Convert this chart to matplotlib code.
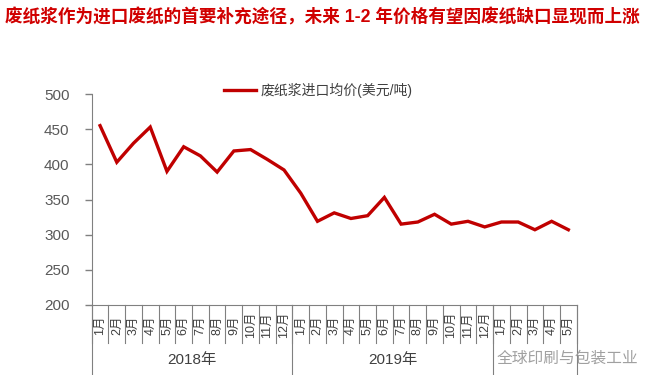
import matplotlib
matplotlib.use("Agg")
import matplotlib.pyplot as plt
from matplotlib.transforms import blended_transform_factory

plt.rcParams['font.family'] = ['Liberation Sans', 'Noto Sans CJK SC', 'DejaVu Sans']

years = ["2018年", "2019年", "2020年"]
months_per_year = [12, 12, 5]
month_labels = [f"{m}月" for n in months_per_year for m in range(1, n + 1)]
prices = [455, 403, 430, 453, 390, 425, 412, 389, 419, 421, 407, 392,
          359, 319, 331, 323, 327, 353, 315, 318, 329, 315, 319, 311,
          318, 318, 307, 319, 307]
series_name = "废纸浆进口均价(美元/吨)"
title = "废纸浆作为进口废纸的首要补充途径，未来 1-2 年价格有望因废纸缺口显现而上涨"
yticks = [200, 250, 300, 350, 400, 450, 500]

W, H = 651, 375
fig = plt.figure(figsize=(W / 100, H / 100), dpi=100)
ax = fig.add_axes([91.7 / W, 70 / H, 485 / W, 211 / H])

x = list(range(len(prices)))
ax.plot(x, prices, color='#C00000', linewidth=2.4, label=series_name,
        solid_joinstyle='miter')
ax.set_xlim(-0.5, len(prices) - 0.5)
ax.set_ylim(200, 500)
ax.set_yticks(yticks)
ax.tick_params(axis='y', direction='out', length=5, width=1, color='#808080',
               labelcolor='#595959', labelsize=11, pad=11)
ax.set_xticks([])
for s in ['top', 'right']:
    ax.spines[s].set_visible(False)
ax.spines['left'].set_color('#808080')
ax.spines['bottom'].set_color('#808080')

# multi-level category axis
tr = blended_transform_factory(ax.transData, fig.transFigure)
y_axis = 70 / H
y_month_end = (H - 343) / H
gray = '#808080'
for i in range(len(prices) + 1):
    ax.plot([i - 0.5, i - 0.5], [y_axis, y_month_end], transform=tr,
            color=gray, lw=0.8, clip_on=False)
for i, lab in enumerate(month_labels):
    ax.text(i, (H - 325) / H, lab, transform=tr, rotation=90, ha='center',
            va='center', fontsize=9, color='#404040')
start = 0
bounds = [0]
for n in months_per_year:
    start += n
    bounds.append(start)
for b in bounds:
    ax.plot([b - 0.5, b - 0.5], [y_axis, 0], transform=tr,
            color=gray, lw=0.8, clip_on=False)
for k, yr in enumerate(years[:2]):
    mid = (bounds[k] + bounds[k + 1] - 1) / 2
    ax.text(mid, (H - 360) / H, yr, transform=tr, ha='center', va='center',
            fontsize=11, color='#404040')

# watermark
fig.text(497 / W, (H - 358) / H, "全球印刷与包装工业", ha='left', va='center',
         fontsize=11.3, color='#A0A0A0')

leg = ax.legend(loc='upper center', bbox_to_anchor=(318 / W, (H - 70) / H),
                bbox_transform=fig.transFigure, frameon=False, fontsize=10,
                handlelength=2.3, handletextpad=0.3, labelcolor='#404040')

fig.text(5 / W, (H - 17) / H, title, ha='left', va='center', fontsize=12.7,
         color='#D00000', fontweight='bold')

fig.savefig('out.png', dpi=100)
